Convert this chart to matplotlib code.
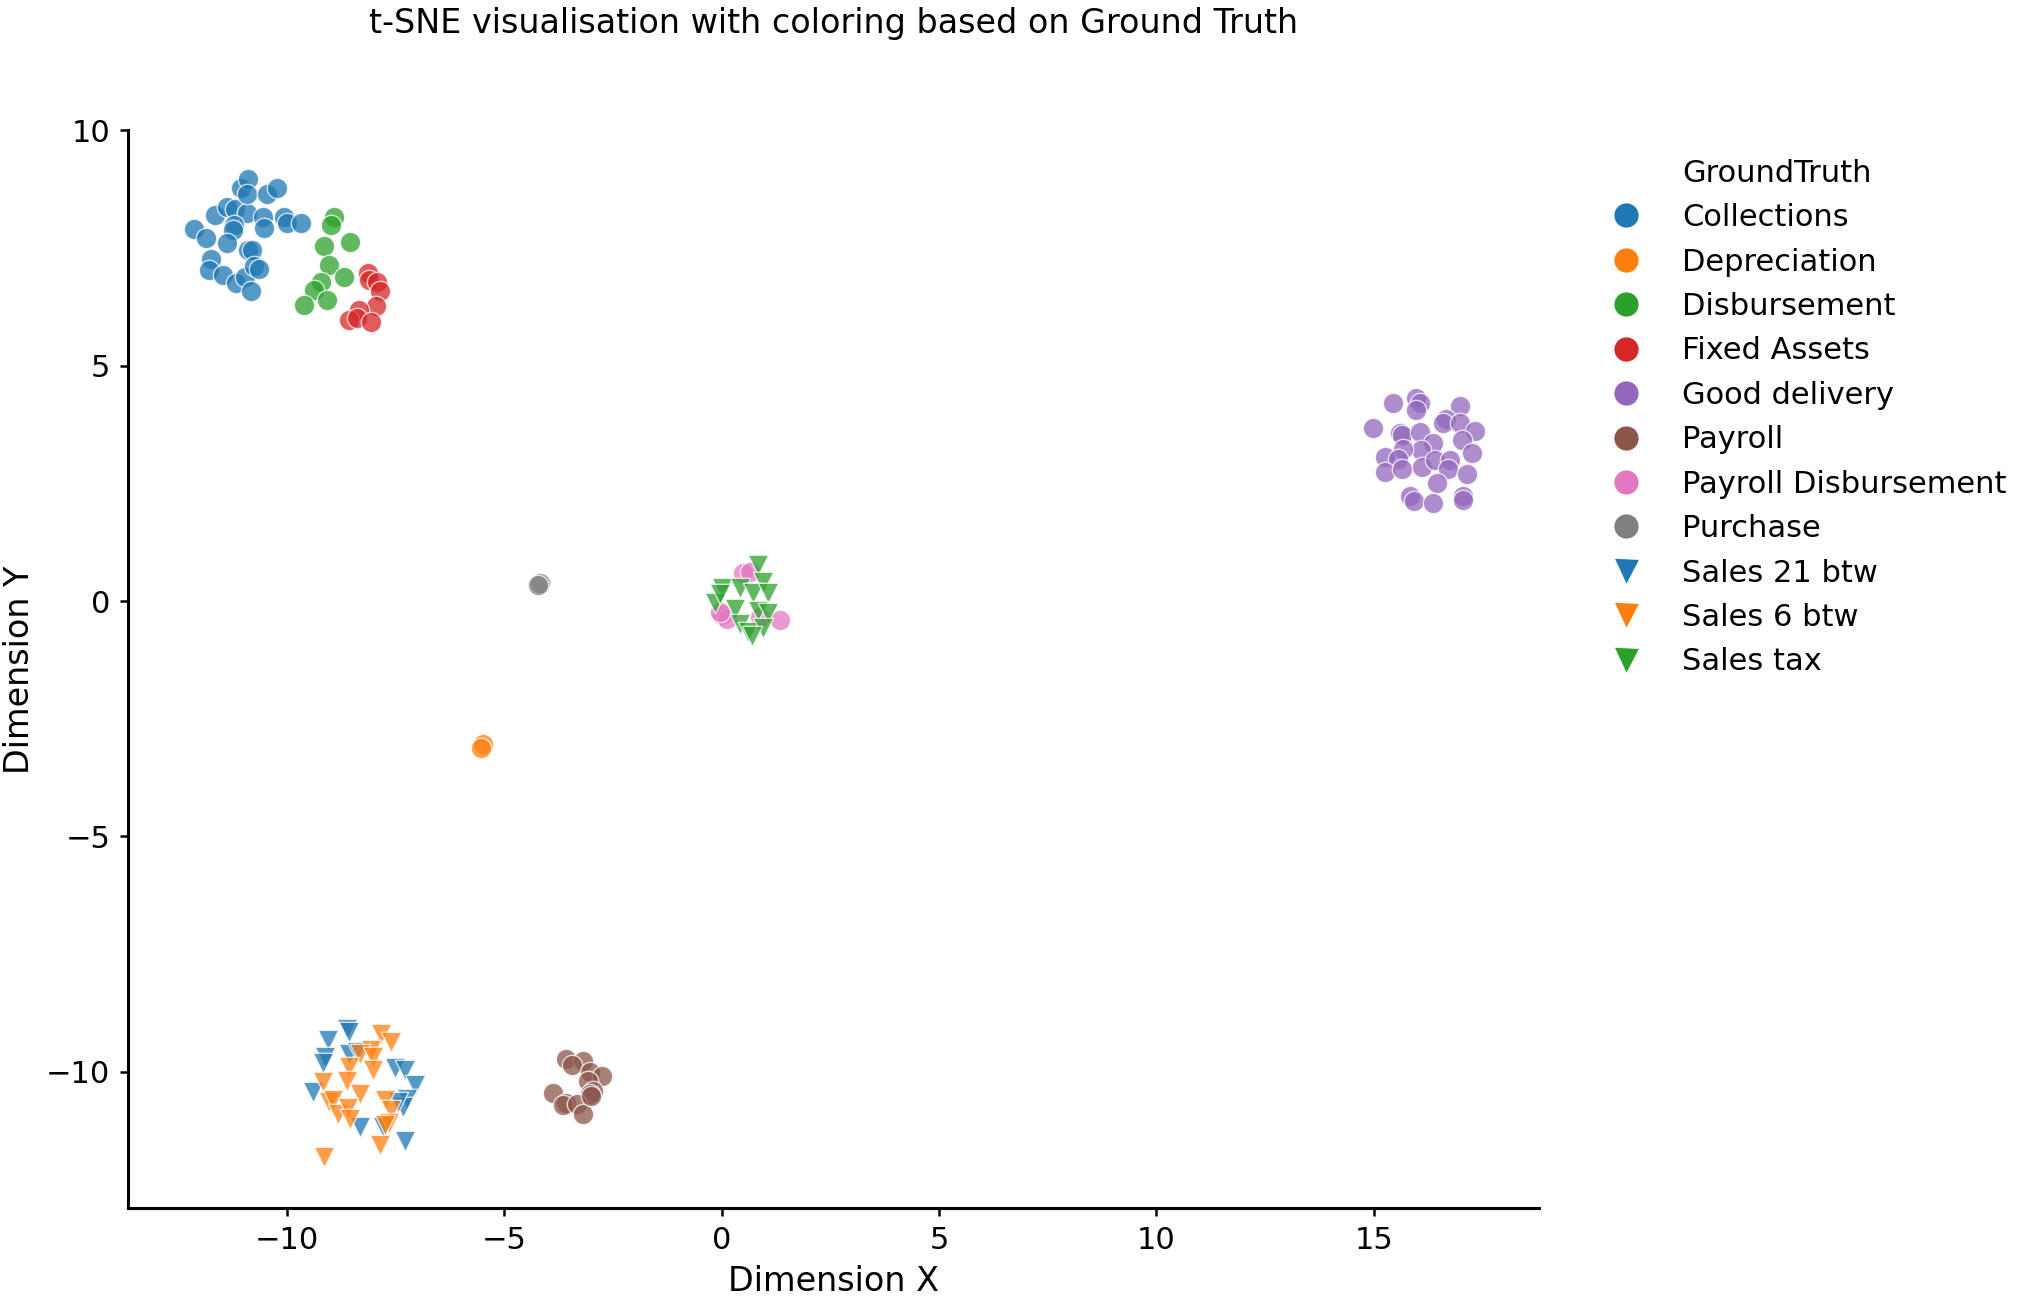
# t-SNE scatter, coloured by ground truth label
import numpy as np
import matplotlib.pyplot as plt
from matplotlib.lines import Line2D

categories = ["Collections", "Depreciation", "Disbursement", "Fixed Assets",
              "Good delivery", "Payroll", "Payroll Disbursement", "Purchase",
              "Sales 21 btw", "Sales 6 btw", "Sales tax"]
markers = ["o"] * 8 + ["v"] * 3
colors = ["tab:blue", "tab:orange", "tab:green", "tab:red", "tab:purple",
          "tab:brown", "tab:pink", "tab:gray", "tab:blue", "tab:orange", "tab:green"]

collections_x = [-12.14, -11.86, -11.65, -11.38, -11.19, -10.92, -11.21, -11.23, -11.36, -11.04,
                 -10.88, -10.92, -10.46, -10.23, -10.55, -10.52, -10.06, -10.00, -9.66, -10.88,
                 -10.80, -11.74, -11.79, -11.47, -11.17, -10.96, -10.82, -10.76, -10.63]
collections_y = [7.90, 7.71, 8.21, 8.38, 8.34, 8.24, 7.99, 7.88, 7.60, 8.77,
                 8.96, 8.66, 8.66, 8.77, 8.17, 7.92, 8.17, 8.03, 8.04, 7.46,
                 7.46, 7.28, 7.04, 6.92, 6.77, 6.89, 6.58, 7.12, 7.05]

depreciation_x = [-5.49, -5.52]
depreciation_y = [-3.04, -3.13]

disbursement_x = [-8.91, -8.97, -8.54, -9.13, -9.02, -8.69, -9.22, -9.38, -9.07, -9.61]
disbursement_y = [8.17, 7.99, 7.64, 7.55, 7.14, 6.89, 6.79, 6.61, 6.39, 6.29]

fixed_assets_x = [-8.13, -8.10, -7.93, -7.85, -7.95, -8.33, -8.56, -8.37, -8.05]
fixed_assets_y = [6.97, 6.82, 6.79, 6.58, 6.28, 6.19, 5.98, 6.01, 5.94]

good_delivery_x = [15.43, 15.97, 16.06, 15.97, 16.97, 16.66, 16.60, 16.97, 17.33, 14.99, 15.59,
                   15.65, 16.05, 17.03, 17.25, 16.36, 16.08, 15.68, 15.26, 15.55, 15.26, 15.65,
                   16.10, 16.40, 16.75, 16.71, 17.14, 16.45, 15.83, 15.93, 16.37, 17.06, 17.06]
good_delivery_y = [4.20, 4.31, 4.22, 4.07, 4.14, 3.88, 3.78, 3.78, 3.62, 3.67, 3.57,
                   3.53, 3.60, 3.42, 3.14, 3.37, 3.21, 3.23, 3.06, 3.02, 2.75, 2.80,
                   2.84, 3.00, 3.00, 2.81, 2.70, 2.52, 2.24, 2.12, 2.08, 2.24, 2.15]

payroll_x = [-3.57, -3.19, -3.44, -3.03, -2.74, -3.06, -2.95, -3.03, -3.88, -3.57, -3.64, -3.33, -3.18, -2.99]
payroll_y = [-9.72, -9.77, -9.86, -10.01, -10.10, -10.19, -10.40, -10.47, -10.45, -10.67, -10.71, -10.68, -10.89, -10.51]

payroll_disb_x = [0.50, 0.66, 0.00, 0.12, -0.04, 0.88, 1.35]
payroll_disb_y = [0.60, 0.62, -0.30, -0.37, -0.23, -0.33, -0.40]

purchase_x = [-4.17, -4.21]
purchase_y = [0.39, 0.34]

sales21_x = [-8.60, -8.56, -9.04, -9.12, -9.17, -8.56, -7.50, -7.28, -7.05, -9.40,
             -7.24, -7.32, -8.31, -7.79, -7.27, -7.43, -8.39]
sales21_y = [-9.10, -9.16, -9.33, -9.69, -9.82, -9.62, -9.93, -9.97, -10.29, -10.43,
             -10.57, -10.75, -11.18, -11.18, -11.48, -10.65, -9.59]

sales6_x = [-7.83, -7.59, -8.06, -8.31, -8.01, -8.56, -8.02, -9.16, -8.62, -8.31, -9.02,
            -8.93, -8.82, -8.59, -8.55, -7.74, -7.59, -7.64, -7.74, -7.86, -9.13]
sales6_y = [-9.19, -9.37, -9.53, -9.62, -9.69, -9.90, -9.97, -10.22, -10.19, -10.47, -10.64,
            -10.60, -10.89, -10.78, -11.00, -10.61, -10.82, -11.09, -11.14, -11.56, -11.81]

sales_tax_x = [0.85, 0.96, 0.00, 0.43, 0.72, 1.07, -0.15, 0.31, 0.85, 1.07, 0.43, 0.62, 0.95, 0.70, -0.04]
sales_tax_y = [0.77, 0.41, 0.27, 0.27, 0.17, 0.17, -0.03, -0.17, -0.22, -0.26, -0.49, -0.65, -0.58, -0.74, 0.16]

xs = [collections_x, depreciation_x, disbursement_x, fixed_assets_x, good_delivery_x, payroll_x,
      payroll_disb_x, purchase_x, sales21_x, sales6_x, sales_tax_x]
ys = [collections_y, depreciation_y, disbursement_y, fixed_assets_y, good_delivery_y, payroll_y,
      payroll_disb_y, purchase_y, sales21_y, sales6_y, sales_tax_y]

plt.rcParams['font.family'] = ['DejaVu Sans']
fig = plt.figure(figsize=(20.3, 13.01), dpi=100)
ax = fig.add_axes([0.0632, 0.0713, 0.6950, 0.8284])

for cat, x, y, m, c in zip(categories, xs, ys, markers, colors):
    ax.scatter(x, y, s=215, marker=m, color=c, alpha=0.75,
               edgecolor='white', linewidth=1.0, label=cat)

ax.set_xlim(-13.64, 18.80)
ax.set_ylim(-12.90, 10.0)
ax.set_xticks([-10, -5, 0, 5, 10, 15])
ax.set_yticks([-10, -5, 0, 5, 10])
ax.tick_params(labelsize=22, length=6, width=1.8, pad=7)
for side in ['top', 'right']:
    ax.spines[side].set_visible(False)
for side in ['left', 'bottom']:
    ax.spines[side].set_linewidth(2.2)

ax.set_xlabel("Dimension X", fontsize=24, labelpad=7)
ax.set_ylabel("Dimension Y", fontsize=24, labelpad=7)
ax.set_title("t-SNE visualisation with coloring based on Ground Truth", fontsize=24, pad=70)

handles = [Line2D([], [], linestyle='none', marker='')]
labels = ["GroundTruth"]
for cat, m, c in zip(categories, markers, colors):
    handles.append(Line2D([], [], linestyle='none', marker=m, markersize=18,
                          markerfacecolor=c, markeredgecolor='white', markeredgewidth=0.5))
    labels.append(cat)
fig.legend(handles, labels, loc='upper left', bbox_to_anchor=(0.786, 0.878),
           frameon=False, fontsize=22, borderaxespad=0, borderpad=0,
           handlelength=2.0, handletextpad=0.84, labelspacing=0.505)

fig.savefig("out.png", dpi=100)
